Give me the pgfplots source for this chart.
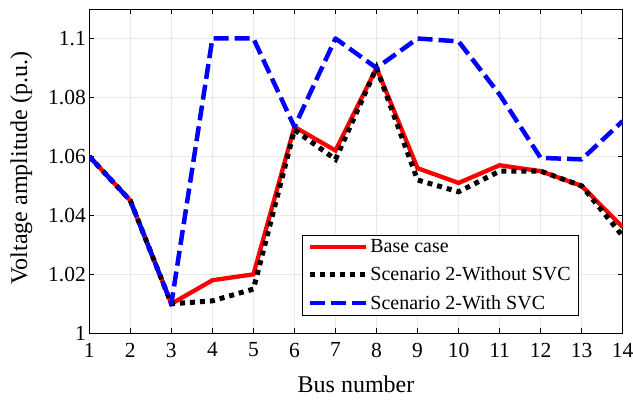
\documentclass[border=0pt]{standalone}
\usepackage{pgfplots}
\pgfplotsset{compat=1.18}
\usepackage{fontspec}
\setmainfont{Liberation Serif}
\begin{document}
\begin{tikzpicture}
\begin{axis}[
  scale only axis, width=533.4bp, height=324.3bp,
  xmin=1, xmax=14, ymin=1, ymax=1.11,
  xtick={1,...,14},
  ytick={1,1.02,1.04,1.06,1.08,1.1},
  yticklabels={1,1.02,1.04,1.06,1.08,1.1},
  tick align=inside, major tick length=5bp,
  tick style={black, line width=0.6bp},
  axis line style={black, line width=0.6bp},
  grid=major, grid style={gray!18, line width=0.6bp},
  /pgf/number format/assume math mode=true,
  xlabel={Bus number}, ylabel={Voltage amplitude (p.u.)},
  xlabel style={font=\fontsize{24bp}{27bp}\selectfont, at={(axis description cs:0.5,0)}, yshift=-51bp, anchor=center},
  ylabel style={font=\fontsize{24bp}{27bp}\selectfont, at={(axis description cs:-0.1275,0.51)}, anchor=center},
  ticklabel style={font=\fontsize{21.5bp}{25bp}\selectfont},
  xticklabel shift=6bp,
  legend style={at={(0.398,0.056)}, anchor=south west, draw=black, line width=0.6bp, font=\fontsize{20bp}{23bp}\selectfont, inner xsep=5.5bp, inner ysep=2bp, row sep=9bp},
  legend cell align=left,
  legend image code/.code={\draw[#1] (0bp,0bp) -- (56bp,0bp);},
]
\addplot[red, line width=4.3bp] coordinates {
(1,1.06) (2,1.045) (3,1.01) (4,1.018) (5,1.020) (6,1.070) (7,1.062) (8,1.090) (9,1.056) (10,1.051) (11,1.057) (12,1.055) (13,1.050) (14,1.036)};
\addlegendentry{Base case}
\addplot[black, line width=5bp, dash pattern=on 5bp off 5bp] coordinates {
(1,1.06) (2,1.045) (3,1.01) (4,1.011) (5,1.015) (6,1.069) (7,1.059) (8,1.090) (9,1.052) (10,1.048) (11,1.055) (12,1.055) (13,1.050) (14,1.033)};
\addlegendentry{Scenario 2-Without SVC}
\addplot[blue, line width=4.5bp, dash pattern=on 15bp off 6bp, line join=round] coordinates {
(1,1.06) (2,1.045) (3,1.01) (4,1.1) (5,1.1) (6,1.07) (7,1.1) (8,1.09) (9,1.1) (10,1.099) (11,1.081) (12,1.0595) (13,1.059) (14,1.072)};
\addlegendentry{Scenario 2-With SVC}
\end{axis}
\pgfresetboundingbox
\path ([xshift=-89.3bp,yshift=-69.7bp]current axis.south west) rectangle ([xshift=10.3bp,yshift=9bp]current axis.north east);
\end{tikzpicture}
\end{document}
